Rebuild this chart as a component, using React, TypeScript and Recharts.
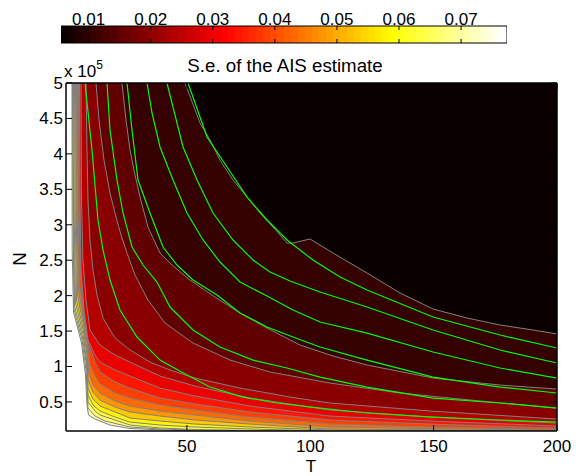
import { Area, Bar, BarChart, ComposedChart, Line, XAxis, YAxis } from "recharts";

// axes
const tDomain: [number, number] = [1, 200];
const nDomain: [number, number] = [0.09, 5]; // N in units of 1e5
const tTicks = [50, 100, 150, 200];
const nTicks = [0.5, 1, 1.5, 2, 2.5, 3, 3.5, 4, 4.5, 5];
const seRange: [number, number] = [0.00555, 0.0774];
const seTicks = [0.01, 0.02, 0.03, 0.04, 0.05, 0.06, 0.07];

// filled contour boundaries, [T, N/1e5], darkest level first
const level1 = [[49.24, 5], [55.32, 4.436], [59.37, 4.196], [63.42, 3.913], [68.69, 3.631], [74.37, 3.391], [79.64, 3.166], [84.91, 2.968], [90.58, 2.742], [93.01, 2.742], [99.9, 2.799], [109.23, 2.601], [123.01, 2.319], [136.39, 2.037], [149.77, 1.811], [163.55, 1.684], [176.93, 1.585], [190.3, 1.515], [200, 1.458]];
const level2 = [[23.7, 5], [25.32, 4.478], [26.94, 4.055], [28.97, 3.702], [31.0, 3.391], [34.24, 2.968], [39.1, 2.601], [43.97, 2.432], [51.26, 2.22], [61.4, 1.98], [71.53, 1.755], [82.47, 1.543], [95.85, 1.303], [109.23, 1.148], [123.01, 1.021], [149.77, 0.837], [176.93, 0.738], [200, 0.682]];
const level3 = [[13.16, 5], [14.38, 4.478], [16.4, 3.913], [18.84, 3.448], [20.86, 3.166], [23.29, 2.855], [25.73, 2.601], [28.97, 2.291], [34.24, 1.938], [41.13, 1.613], [52.48, 1.331], [67.48, 1.091], [83.69, 0.922], [108.01, 0.767], [136.39, 0.626], [168.82, 0.513], [200, 0.414]];
const level4 = [[9.11, 5], [9.51, 4.055], [9.92, 3.349], [10.73, 2.785], [11.94, 2.361], [13.57, 2.009], [16.0, 1.684], [20.86, 1.402], [26.94, 1.233], [35.05, 1.063], [43.16, 0.95], [53.29, 0.837], [71.53, 0.696], [91.8, 0.569], [108.01, 0.485], [148.55, 0.372], [200, 0.259]];
const level5 = [[7.08, 5], [7.28, 3.349], [7.89, 2.502], [9.11, 1.938], [10.73, 1.515], [14.78, 1.303], [20.86, 1.162], [26.94, 1.063], [39.1, 0.865], [53.29, 0.724], [75.58, 0.555], [108.01, 0.386], [148.55, 0.287], [200, 0.202]];
const level6 = [[6.47, 5], [6.67, 3.349], [7.08, 2.361], [8.3, 1.797], [9.92, 1.374], [12.76, 1.162], [14.78, 1.063], [20.86, 0.95], [26.94, 0.865], [39.1, 0.696], [53.29, 0.583], [75.58, 0.442], [108.01, 0.301], [148.55, 0.231], [200, 0.16]];
const level7 = [[6.07, 5], [6.27, 3.349], [7.08, 2.22], [8.7, 1.656], [10.32, 1.303], [12.76, 1.063], [14.78, 0.922], [20.86, 0.781], [26.94, 0.696], [39.1, 0.555], [53.29, 0.471], [75.58, 0.358], [108.01, 0.245], [148.55, 0.188], [200, 0.132]];
const level8 = [[5.66, 5], [5.86, 3.349], [6.47, 2.15], [8.7, 1.628], [9.72, 1.374], [10.73, 1.021], [12.76, 0.865], [14.78, 0.753], [20.86, 0.626], [26.94, 0.555], [39.1, 0.457], [53.29, 0.386], [75.58, 0.287], [108.01, 0.188], [148.55, 0.146], [200, 0.111]];
const level9 = [[5.26, 5], [5.46, 3.349], [6.07, 2.079], [8.5, 1.585], [9.72, 1.303], [10.12, 0.922], [11.94, 0.738], [14.78, 0.626], [20.86, 0.513], [26.94, 0.442], [39.1, 0.372], [53.29, 0.315], [75.58, 0.231], [108.01, 0.146], [200, 0.097]];
const level10 = [[4.85, 5], [5.05, 3.349], [5.66, 2.009], [8.3, 1.543], [9.51, 1.233], [9.92, 0.809], [11.94, 0.64], [14.78, 0.527], [20.86, 0.428], [26.94, 0.358], [39.1, 0.301], [53.29, 0.245], [75.58, 0.188], [108.01, 0.118], [200, 0.09]];
const level11 = [[4.45, 5], [4.65, 3.349], [5.26, 1.938], [8.09, 1.501], [9.51, 1.162], [9.92, 0.696], [11.94, 0.541], [14.78, 0.442], [20.86, 0.358], [26.94, 0.273], [39.1, 0.231], [53.29, 0.188], [75.58, 0.146], [108.01, 0.104], [200, 0.09]];
const level12 = [[4.04, 5], [4.24, 3.349], [4.85, 1.896], [7.89, 1.458], [9.31, 1.091], [9.92, 0.597], [11.94, 0.457], [14.78, 0.372], [20.86, 0.287], [26.94, 0.216], [39.1, 0.174], [53.29, 0.146], [75.58, 0.118], [108.01, 0.09], [200, 0.09]];
const level13 = [[3.84, 5], [4.04, 3.349], [4.45, 1.853], [7.69, 1.416], [9.31, 1.021], [9.92, 0.499], [12.76, 0.372], [14.78, 0.315], [20.86, 0.245], [26.94, 0.174], [39.1, 0.132], [53.29, 0.111], [75.58, 0.097], [108.01, 0.09], [200, 0.09]];
const level14 = [[3.63, 5], [3.84, 3.349], [4.24, 1.811], [7.49, 1.374], [9.11, 0.95], [9.92, 0.414], [12.76, 0.301], [16.81, 0.231], [26.94, 0.146], [39.1, 0.118], [53.29, 0.104], [75.58, 0.09], [200, 0.09]];
const outerEdge = [[3.43, 5], [3.51, 2.644], [4.04, 1.769], [7.28, 1.331], [8.9, 0.88], [9.51, 0.457], [10.12, 0.315], [12.76, 0.259], [18.84, 0.174], [26.94, 0.125], [45.18, 0.097], [60.18, 0.09], [200, 0.09]];

// green reference curves
const greenA = [[50.45, 5], [58.15, 4.238], [66.26, 3.815], [74.37, 3.391], [82.47, 3.067], [90.58, 2.785], [101.12, 2.502], [112.07, 2.263], [123.01, 2.079], [149.77, 1.698], [176.93, 1.444], [200, 1.261]];
const greenB = [[41.94, 5], [44.37, 4.661], [48.43, 4.097], [54.1, 3.631], [60.59, 3.166], [68.69, 2.785], [76.8, 2.502], [83.69, 2.333], [91.8, 2.206], [103.96, 2.051], [123.01, 1.839], [149.77, 1.515], [176.93, 1.233], [200, 1.049]];
const greenC = [[33.83, 5], [35.86, 4.577], [39.1, 4.097], [44.37, 3.631], [50.05, 3.166], [56.53, 2.785], [63.42, 2.474], [71.53, 2.192], [82.47, 1.994], [93.01, 1.797], [103.96, 1.628], [123.01, 1.472], [149.77, 1.204], [176.93, 0.979], [200, 0.837]];
const greenD = [[25.73, 5], [27.75, 4.337], [30.19, 3.631], [35.05, 3.166], [40.32, 2.686], [45.99, 2.432], [52.48, 2.22], [62.21, 2.009], [71.53, 1.755], [82.47, 1.557], [93.01, 1.416], [103.96, 1.275], [123.01, 1.091], [149.77, 0.851], [176.93, 0.71], [200, 0.626]];
const greenE = [[17.62, 5], [18.84, 4.337], [21.67, 3.631], [24.11, 3.166], [27.75, 2.686], [32.21, 2.432], [37.89, 2.192], [43.16, 1.839], [52.48, 1.515], [63.42, 1.275], [76.8, 1.091], [90.58, 0.979], [103.96, 0.851], [123.01, 0.71], [149.77, 0.555], [176.93, 0.485], [200, 0.414]];
const greenF = [[8.7, 5], [11.54, 4.055], [13.97, 3.067], [16.0, 2.644], [18.84, 2.22], [22.89, 1.797], [29.78, 1.416], [39.1, 1.091], [50.05, 0.88], [59.37, 0.71], [72.75, 0.569], [86.53, 0.485], [103.96, 0.414], [123.01, 0.344], [149.77, 0.287], [176.93, 0.245], [200, 0.216]];

const contours = [level1, level2, level3, level4, level5, level6, level7, level8, level9, level10, level11, level12, level13, level14, outerEdge];
const bandColors = ["#0b0000", "#350000", "#600000", "#8a0000", "#b50000", "#ea0000", "#ff1500", "#ff4000", "#ff6a00", "#ff9500", "#ffca00", "#fff500", "#ffff30", "#ffff70", "#ffffaf"];
const greens = [greenA, greenB, greenC, greenD, greenE, greenF];

const FONT = "'Liberation Sans', Arial, Helvetica, sans-serif";

const rows = (pts: number[][]) => pts.map(([T, N]) => ({ T, N }));

// matlab "hot" colormap, 64 steps
const hot = (i: number) => {
  const r = Math.min(1, (i + 1) / 24);
  const g = i < 24 ? 0 : Math.min(1, (i + 1 - 24) / 24);
  const b = i < 48 ? 0 : (i + 1 - 48) / 16;
  return `rgb(${Math.round(r * 255)},${Math.round(g * 255)},${Math.round(b * 255)})`;
};

const BottomTick = ({ x, y, payload }: any) => (
  <g>
    <line x1={x} x2={x} y1={y} y2={y - 6} stroke="#000" />
    <text x={x} y={y + 21} textAnchor="middle" fontSize={17} fill="#000">{payload.value}</text>
  </g>
);
const TopTick = ({ x, y }: any) => <line x1={x} x2={x} y1={y} y2={y + 6} stroke="#000" />;
const LeftTick = ({ x, y, payload }: any) => (
  <g>
    <line x1={x} x2={x + 6} y1={y} y2={y} stroke="#000" />
    <text x={x - 3} y={y} dy="0.35em" textAnchor="end" fontSize={17} fill="#000">{payload.value}</text>
  </g>
);
const RightTick = ({ x, y }: any) => <line x1={x} x2={x - 6} y1={y} y2={y} stroke="#000" />;
const BarTick = ({ x, y, payload }: any) => (
  <g>
    <line x1={x} x2={x} y1={y} y2={y + 4} stroke="#000" />
    <line x1={x} x2={x} y1={y + 17} y2={y + 13} stroke="#000" />
    <text x={x} y={y - 1.5} textAnchor="middle" fontSize={17} fill="#000">{payload.value}</text>
  </g>
);

function Colorbar() {
  return (
    <BarChart
      width={576}
      height={60}
      layout="vertical"
      data={[{ name: "se", span: seRange }]}
      margin={{ top: 6, right: 69, bottom: 17, left: 61 }}
      barCategoryGap={0}
    >
      <defs>
        <linearGradient id="hotmap" x1="0" x2="1" y1="0" y2="0">
          {Array.from({ length: 64 }, (_, i) => [
            <stop key={`a${i}`} offset={i / 64} stopColor={hot(i)} />,
            <stop key={`b${i}`} offset={(i + 1) / 64} stopColor={hot(i)} />,
          ])}
        </linearGradient>
      </defs>
      <Bar dataKey="span" fill="url(#hotmap)" stroke="#000" strokeWidth={1} isAnimationActive={false} />
      <XAxis
        type="number"
        orientation="top"
        domain={seRange}
        ticks={seTicks}
        allowDataOverflow
        height={20}
        tickSize={0}
        tickMargin={0}
        tickLine={false}
        axisLine={false}
        tick={<BarTick />}
      />
      <YAxis type="category" dataKey="name" hide />
    </BarChart>
  );
}

export default function App() {
  return (
    <div style={{ position: "absolute", left: 0, top: 0, width: 576, height: 476, background: "#fff", fontFamily: FONT }}>
      <div style={{ position: "absolute", left: 0, top: 0 }}>
        <Colorbar />
      </div>
      <div style={{ position: "absolute", left: 0, top: 0 }}>
        <ComposedChart width={576} height={476} margin={{ top: 73, right: 9, bottom: 15, left: 26 }}>
          {contours
            .map((pts, i) => (
              <Area
                key={`level-${i}`}
                data={rows(pts)}
                dataKey="N"
                type="linear"
                baseValue={5}
                fill={bandColors[i]}
                fillOpacity={1}
                stroke="#808080"
                strokeWidth={1}
                dot={false}
                activeDot={false}
                isAnimationActive={false}
              />
            ))
            .reverse()}
          {greens.map((pts, i) => (
            <Line
              key={`green-${i}`}
              data={rows(pts)}
              dataKey="N"
              type="linear"
              stroke="#00ff00"
              strokeWidth={1.2}
              dot={false}
              activeDot={false}
              isAnimationActive={false}
            />
          ))}
          <XAxis type="number" dataKey="T" domain={tDomain} ticks={tTicks} allowDataOverflow height={30}
            tickSize={0} tickMargin={0} tickLine={false} tick={<BottomTick />} axisLine={{ stroke: "#000", strokeWidth: 1.5 }} />
          <XAxis xAxisId="top" orientation="top" type="number" dataKey="T" domain={tDomain} ticks={tTicks} allowDataOverflow height={10}
            tickSize={0} tickMargin={0} tickLine={false} tick={<TopTick />} axisLine={{ stroke: "#000", strokeWidth: 1.5 }} />
          <YAxis type="number" domain={nDomain} ticks={nTicks} allowDataOverflow width={40}
            tickSize={0} tickMargin={0} tickLine={false} tick={<LeftTick />} axisLine={{ stroke: "#000", strokeWidth: 1.5 }} />
          <YAxis yAxisId="right" orientation="right" type="number" domain={nDomain} ticks={nTicks} allowDataOverflow width={10}
            tickSize={0} tickMargin={0} tickLine={false} tick={<RightTick />} axisLine={{ stroke: "#000", strokeWidth: 1.5 }} />
        </ComposedChart>
      </div>
      <svg width={576} height={476} style={{ position: "absolute", left: 0, top: 0, pointerEvents: "none" }}>
        <text x={285} y={72} textAnchor="middle" fontSize={18.7} fill="#000">S.e. of the AIS estimate</text>
        <text x={64} y={77} fontSize={17} fill="#000">
          x 10<tspan dy={-8} fontSize={12}>5</tspan>
        </text>
        <text x={311} y={472} textAnchor="middle" fontSize={17} fill="#000">T</text>
        <text x={26} y={259} textAnchor="middle" fontSize={18.7} fill="#000" transform="rotate(-90 26 259)">N</text>
      </svg>
    </div>
  );
}
